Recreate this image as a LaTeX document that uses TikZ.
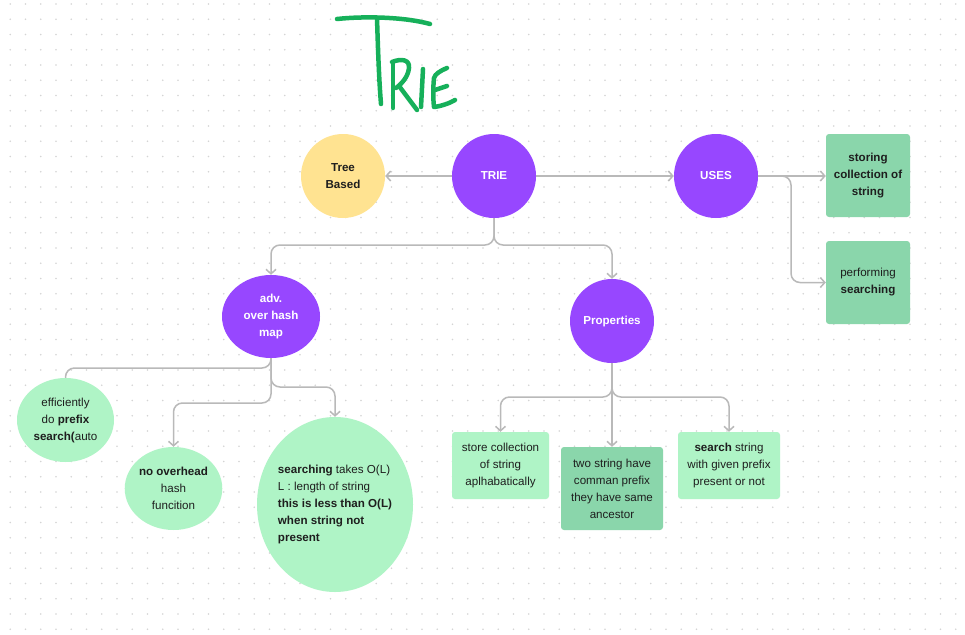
\documentclass[tikz,border=0pt]{standalone}
\usepackage{fontspec}
\setmainfont{Liberation Sans}
\usetikzlibrary{shapes.geometric,arrows.meta}
\definecolor{purp}{RGB}{151,71,255}
\definecolor{yell}{RGB}{255,227,145}
\definecolor{gdark}{RGB}{138,214,171}
\definecolor{glight}{RGB}{175,244,198}
\definecolor{conn}{RGB}{185,185,185}
\definecolor{dotc}{RGB}{212,212,212}
\definecolor{inkc}{RGB}{30,30,30}
\definecolor{titleg}{RGB}{22,176,90}
\tikzset{
  txt/.style={font=\fontsize{11.6}{17}\selectfont, text=inkc, align=center, inner sep=0pt},
  bubble/.style={txt, circle, fill=purp, text=white, font=\fontsize{11.6}{17}\selectfont\bfseries, minimum size=84pt},
  oval/.style={txt, ellipse, fill=glight},
  gbox/.style={txt, rectangle, rounded corners=3pt, fill=gdark},
  lbox/.style={txt, rectangle, rounded corners=3pt, fill=glight},
  link/.style={draw=conn, line width=1.5pt, rounded corners=9pt},
  arr/.style={link, -{Straight Barb[length=4.5pt,width=10pt]}},
  pen/.style={draw=titleg, line width=4.5pt, line cap=round, line join=round}
}
\begin{document}
\begin{tikzpicture}[x=1pt,y=-1pt]
\fill[white] (0,0) rectangle (965,634);
\useasboundingbox (0,0) rectangle (965,634);
\foreach \i in {0,...,62}{
  \foreach \j in {0,...,41}{
    \fill[dotc] (10.25+15.25*\i, 4+15.25*\j) circle (0.85pt);
  }
}
% title
\draw[pen] (337,19) .. controls (365,16) and (405,17) .. (430,24);
\draw[pen] (377,18) .. controls (378,50) and (379,80) .. (381,104);
\draw[pen] (393,63) -- (393,108);
\draw[pen] (392,62) .. controls (402,58) and (410,60) .. (409,68) .. controls (408,78) and (400,85) .. (396,88);
\draw[pen] (399,86) -- (417,110);
\draw[pen] (423,69) -- (421,107);
\draw[pen] (447,68) .. controls (440,71) and (435,74) .. (434,78) .. controls (433,88) and (433,98) .. (434,107) .. controls (442,106) and (450,103) .. (455,100);
\draw[pen] (435,90) -- (447,86);

% nodes
\node[bubble, fill=yell, text=inkc] (tree) at (343,176) {Tree\\Based};
\node[bubble] (trie) at (494,176) {TRIE};
\node[bubble] (uses) at (716,176) {USES};
\node[gbox, minimum width=84pt, minimum height=83pt, font=\fontsize{11.6}{17}\selectfont\bfseries] (storing) at (868,175.5) {storing\\collection of\\string};
\node[gbox, minimum width=84pt, minimum height=83pt] (perf) at (868,282.5) {performing\\\textbf{searching}};
\node[bubble, ellipse, minimum width=98pt, minimum height=83pt] (adv) at (271,316.5) {adv.\\over hash\\map};
\node[bubble] (prop) at (612,321) {Properties};
\node[oval, minimum width=97pt, minimum height=84pt] (eff) at (65.5,420) {efficiently\\do \textbf{prefix}\\\textbf{search(}auto};
\node[oval, minimum width=97pt, minimum height=83pt] (nooh) at (173.5,488.5) {\textbf{no overhead}\\hash\\funcition};
\node[oval, minimum width=156pt, minimum height=175pt, align=left, inner xsep=-12pt] (srch) at (335,504.5) {\textbf{searching} takes O(L)\\L : length of string\\\textbf{this is less than O(L)}\\\textbf{when string not}\\\textbf{present}};
\node[lbox, minimum width=97pt, minimum height=67pt] (store) at (500.5,465.5) {store collection\\of string\\aplhabatically};
\node[gbox, minimum width=102pt, minimum height=83pt] (two) at (612,488.5) {two string have\\comman prefix\\they have same\\ancestor};
\node[lbox, minimum width=102pt, minimum height=67pt] (sstr) at (729,465.5) {\textbf{search} string\\with given prefix\\present or not};

% connectors
\draw[arr] (trie.west) -- (tree.east);
\draw[arr] (trie.east) -- (uses.east -| uses.west);
\draw[arr] (uses.east) -- (storing.west |- uses.east);
\draw[arr] (uses.east) -- (791,176) -- (791,282.5) -- (perf.west);
\draw[arr] (trie.south) -- (494,245) -- (271,245) -- (adv.north);
\draw[arr] (trie.south) -- (494,245) -- (612,245) -- (prop.north);
\draw[link] (adv.south) -- (271,368) -- (65.5,368) -- (eff.north);
\draw[arr] (adv.south) -- (271,403) -- (173.5,403) -- (nooh.north);
\draw[arr] (adv.south) -- (271,387) -- (335,387) -- (srch.north);
\draw[arr] (prop.south) -- (612,397) -- (500.5,397) -- (store.north);
\draw[arr] (prop.south) -- (two.north);
\draw[arr] (prop.south) -- (612,397) -- (729,397) -- (sstr.north);
\end{tikzpicture}
\end{document}
